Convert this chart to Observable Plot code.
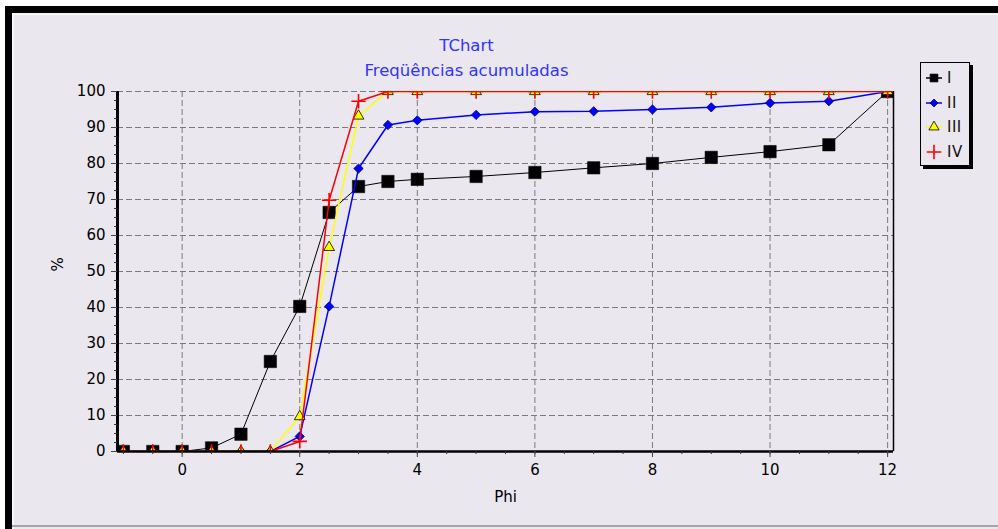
<!DOCTYPE html>
<html>
<head>
<meta charset="utf-8">
<script src="https://cdn.jsdelivr.net/npm/d3@7"></script>
<script src="https://cdn.jsdelivr.net/npm/@observablehq/plot@0.6"></script>
<style>
  body { margin: 0; background: #ffffff; }
  #wrap { position: relative; width: 998px; height: 529px; overflow: hidden; background: #ffffff; }
  #panel { position: absolute; left: 5px; top: 6px; width: 993px; height: 523px; background: #EAE8EE; }
  #topband { position: absolute; left: 5px; top: 6px; width: 993px; height: 7px; background: #000; }
  #leftband { position: absolute; left: 5px; top: 6px; width: 7px; height: 523px; background: #000; }
  #hl1 { position: absolute; left: 12px; top: 13px; width: 986px; height: 2px; background: #F6F5F8; }
  #vl1 { position: absolute; left: 12px; top: 13px; width: 2px; height: 516px; background: #F6F5F8; }
  #bottomline { position: absolute; left: 12px; top: 525px; width: 986px; height: 2px; background: #A6A5AA; }
  #chart { position: absolute; left: 0; top: 0; }
  #chart svg { background: transparent !important; }
  #legend { position: absolute; left: 920px; top: 62px; width: 48px; height: 102px; border: 1px solid #000; background: #EAE8EE; box-shadow: 3px 3px 0 #000; font-family: "DejaVu Sans", sans-serif; font-size: 15px; }
  .row { position: absolute; left: 4px; height: 18px; display: flex; align-items: center; }
  .row span { margin-left: 4px; color: #111; letter-spacing: 0.5px; }
</style>
</head>
<body>
<div id="wrap">
  <div id="panel"></div>
  <div id="topband"></div>
  <div id="leftband"></div>
  <div id="hl1"></div>
  <div id="vl1"></div>
  <div id="bottomline"></div>
  <div id="chart"></div>
  <div id="legend"></div>
</div>
<script>
const phi = [-1, -0.5, 0, 0.5, 1, 1.5, 2, 2.5, 3, 3.5, 4, 5, 6, 7, 8, 9, 10, 11, 12];
const serieI   = [0, 0, 0, 1, 4.8, 25, 40.3, 66.4, 73.6, 75, 75.6, 76.4, 77.5, 78.8, 80, 81.7, 83.3, 85.2, 100];
const serieII  = [0, 0, 0, 0, 0, 0, 4.2, 40.3, 78.6, 90.7, 92, 93.5, 94.4, 94.5, 95, 95.6, 96.8, 97.3, 100];
const serieIII = [0, 0, 0, 0, 0, 0, 9.7, 56.7, 93.2, 100, 100, 100, 100, 100, 100, 100, 100, 100, 100];
const serieIV  = [0, 0, 0, 0, 0, 0, 2.8, 69.8, 97.3, 100, 100, 100, 100, 100, 100, 100, 100, 100, 100];
const seriesNames = ["I", "II", "III", "IV"];
const xTicks = [0, 2, 4, 6, 8, 10, 12];
const xMinorTicks = d3.range(-1, 12.01, 0.5);
const yTicks = [0, 10, 20, 30, 40, 50, 60, 70, 80, 90, 100];
const yMinorTicks = d3.range(0, 100.01, 2.5);
const xDomain = [-1.1, 12.1];
const yDomain = [0, 100];
const titleLines = ["TChart", "Freqüências acumuladas"];
const xLabel = "Phi";
const yLabel = "%";

const toRows = (vals) => phi.map((x, i) => ({x, y: vals[i]}));
const dI = toRows(serieI), dII = toRows(serieII), dIII = toRows(serieIII), dIV = toRows(serieIV);

const font = "DejaVu Sans, sans-serif";
const grid = {stroke: "#7a7a7a", strokeOpacity: 1, strokeWidth: 1, strokeDasharray: "6,3"};
const tickText = {fontSize: 15, fill: "#000", stroke: "#444", letterSpacing: "0.4px"};
const titleText = {fontSize: 16.5, fill: "#3333ff", letterSpacing: "0.5px"};

const chart = Plot.plot({
  width: 998,
  height: 529,
  marginLeft: 117,
  marginRight: 105,
  marginTop: 91,
  marginBottom: 78,
  style: {fontFamily: font, fontSize: "15px", background: "transparent", color: "#000"},
  x: {domain: xDomain},
  y: {domain: yDomain},
  marks: [
    Plot.gridX(xTicks, grid),
    Plot.gridY(yTicks.filter(d => d > 0), grid),
    Plot.ruleX([xDomain[1]], {stroke: "#000", strokeWidth: 1.5}),
    // series I
    Plot.line(dI, {x: "x", y: "y", stroke: "#000", strokeWidth: 1, clip: true}),
    Plot.dot(dI, {x: "x", y: "y", symbol: "square", r: 7, fill: "#000", stroke: "#000", strokeWidth: 0.5, clip: true}),
    // series II
    Plot.line(dII, {x: "x", y: "y", stroke: "#0000ff", strokeWidth: 1.5, clip: true}),
    Plot.dot(dII, {x: "x", y: "y", symbol: "diamond2", r: 4.2, fill: "#0000ff", stroke: "#000080", strokeWidth: 0.8, clip: true}),
    // series III
    Plot.line(dIII, {x: "x", y: "y", stroke: "#ffff00", strokeWidth: 1.5, clip: true}),
    Plot.dot(dIII, {x: "x", y: "y", symbol: "triangle", r: 4, fill: "#ffff00", stroke: "#000", strokeWidth: 0.8, clip: true}),
    // series IV
    Plot.line(dIV, {x: "x", y: "y", stroke: "#ff0000", strokeWidth: 1.5, clip: true}),
    Plot.dot(dIV, {x: "x", y: "y", symbol: "plus", r: 4.7, stroke: "#ff0000", strokeWidth: 1.6, clip: true}),
    // axes lines
    Plot.ruleY([yDomain[0]], {stroke: "#000", strokeWidth: 2.5}),
    Plot.ruleX([xDomain[0]], {stroke: "#000", strokeWidth: 3}),
    // axes
    Plot.axisX(xMinorTicks, {tickSize: 3, text: null, label: null, stroke: "#333"}),
    Plot.axisX(xTicks, {tickSize: 6, tickPadding: 7, label: null, ...tickText}),
    Plot.axisY(yMinorTicks, {tickSize: 3, text: null, label: null, stroke: "#333"}),
    Plot.axisY(yTicks, {tickSize: 6, tickPadding: 6, label: null, ...tickText}),
    Plot.text([xLabel], {frameAnchor: "bottom", dy: 50, fontSize: 15, fill: "#000", letterSpacing: "0.4px"}),
    Plot.text([yLabel], {frameAnchor: "left", dx: -59, rotate: -90, fontSize: 15, fill: "#000"}),
    Plot.text([titleLines[0]], {frameAnchor: "top", dx: -39, dy: -52, ...titleText}),
    Plot.text([titleLines[1]], {frameAnchor: "top", dx: -39, dy: -27, ...titleText})
  ]
});

// clip the series marks to the plotting frame (as in the original chart)
(function clipSeries(svg) {
  const ns = "http://www.w3.org/2000/svg";
  const defs = document.createElementNS(ns, "defs");
  const cp = document.createElementNS(ns, "clipPath");
  cp.setAttribute("id", "frameClip");
  const rect = document.createElementNS(ns, "rect");
  rect.setAttribute("x", 117); rect.setAttribute("y", 91);
  rect.setAttribute("width", 998 - 117 - 105); rect.setAttribute("height", 529 - 91 - 78);
  cp.appendChild(rect); defs.appendChild(cp); svg.insertBefore(defs, svg.firstChild);
  svg.querySelectorAll('g[aria-label="dot"], g[aria-label="line"]').forEach(g => g.setAttribute("clip-path", "url(#frameClip)"));
})(chart);
document.getElementById("chart").appendChild(chart);

// legend
const legendSpec = [
  {name: seriesNames[0], line: "#000", sym: "square", fill: "#000", stroke: "#000", size: 60},
  {name: seriesNames[1], line: "#0000ff", sym: "diamond2", fill: "#0000ff", stroke: "#000080", size: 40},
  {name: seriesNames[2], line: "#ffff00", sym: "triangle", fill: "#ffff00", stroke: "#000", size: 45},
  {name: seriesNames[3], line: "#ff0000", sym: "plus", fill: "none", stroke: "#ff0000", size: 70}
];
const symMap = {square: d3.symbolSquare, diamond2: d3.symbolDiamond2, triangle: d3.symbolTriangle, plus: d3.symbolPlus};
const legend = document.getElementById("legend");
legendSpec.forEach((s, i) => {
  const row = document.createElement("div");
  row.className = "row";
  row.style.top = (6 + i * 24.7) + "px";
  const svg = d3.create("svg").attr("width", 18).attr("height", 16);
  if (s.sym !== "plus") svg.append("line").attr("x1", 1).attr("x2", 17).attr("y1", 8).attr("y2", 8).attr("stroke", s.line).attr("stroke-width", 1.5);
  svg.append("path").attr("transform", "translate(9,8)")
    .attr("d", d3.symbol(symMap[s.sym], s.size)())
    .attr("fill", s.fill).attr("stroke", s.stroke).attr("stroke-width", s.sym === "plus" ? 1.6 : 0.8);
  row.appendChild(svg.node());
  const t = document.createElement("span");
  t.textContent = s.name;
  row.appendChild(t);
  legend.appendChild(row);
});
</script>
</body>
</html>
